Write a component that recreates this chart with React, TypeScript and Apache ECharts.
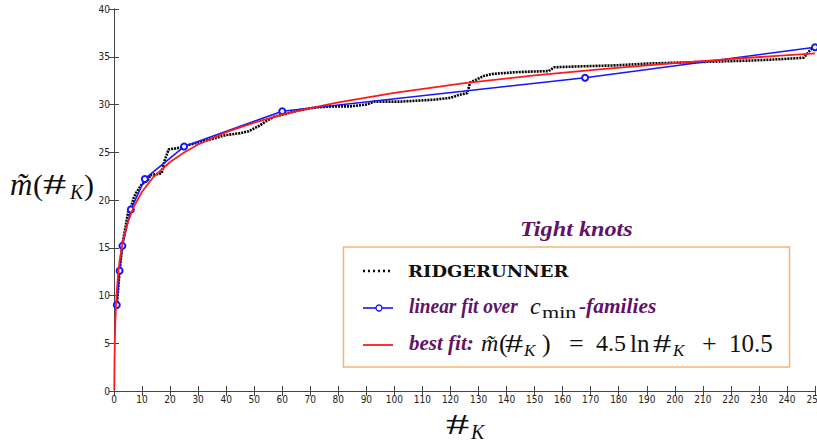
import React, { useEffect, useRef } from "react";
import * as echarts from "echarts";

// RIDGERUNNER data
const ridgeK = [1, 2, 3, 4, 5, 6, 7, 8, 10, 12, 13, 15, 17, 18, 19.5, 22, 25, 27, 31, 35, 40, 45, 48, 50, 52, 54, 57, 61, 66, 72, 78, 84, 90, 93, 102, 108, 114, 120, 123, 126, 127, 132, 135, 144, 155, 157, 167, 179, 191, 203, 215, 227, 238, 246, 248, 249.5];
const ridgeV = [9.0, 12.5, 15.4, 17.0, 18.7, 19.2, 20.2, 20.8, 21.7, 22.0, 22.6, 22.7, 22.8, 24.1, 25.3, 25.4, 25.6, 25.8, 26.1, 26.4, 26.8, 27.0, 27.2, 27.5, 27.8, 28.2, 28.7, 29.0, 29.4, 29.7, 29.8, 29.8, 30.0, 30.3, 30.3, 30.4, 30.5, 30.7, 31.0, 31.2, 32.3, 33.0, 33.2, 33.4, 33.5, 33.9, 34.0, 34.1, 34.3, 34.4, 34.5, 34.6, 34.75, 34.9, 35.6, 36.0];

// linear fit over c_min-families
const familyK = [1, 2, 3, 6, 11, 25, 60, 168, 250];
const familyV = [9.0, 12.6, 15.2, 19.0, 22.2, 25.6, 29.3, 32.8, 36.0];

// best fit curve
const fitK = [0.1, 0.15, 0.2, 0.3, 0.4, 0.5, 0.7, 1, 1.5, 2, 3, 4, 5, 7, 10, 14, 20, 25, 30, 40, 50, 60, 70, 80, 100, 125, 150, 175, 200, 225, 250];
const fitV = [0.14, 1.96, 3.26, 5.08, 6.38, 7.38, 8.89, 10.5, 12.32, 13.62, 15.44, 16.74, 17.74, 19.26, 20.86, 22.38, 23.98, 24.98, 25.81, 27.1, 28.1, 28.93, 29.62, 30.22, 31.22, 32.23, 33.05, 33.74, 34.34, 34.87, 35.35];

const xMax = 250;
const yMax = 40;
const xStep = 10;
const yStep = 5;

const PURPLE = "#5f1468";
const SERIF = "'Liberation Serif', 'DejaVu Serif', serif";
const NARROW = "'Liberation Sans Narrow', 'DejaVu Sans Condensed', 'Liberation Sans', sans-serif";
const AXIS = "#444";

function zip(a: number[], b: number[]) {
  return a.map((v, i) => [v, b[i]]);
}

type TOpts = {
  italic?: boolean;
  bold?: boolean;
  color?: string;
  family?: string;
  sx?: number;
  align?: string;
  z?: number;
};

function txt(text: string, x: number, y: number, size: number, o: TOpts = {}) {
  const font = `${o.italic ? "italic " : ""}${o.bold ? "bold " : ""}${size}px ${o.family || SERIF}`;
  return {
    type: "text",
    x,
    y,
    scaleX: o.sx || 1,
    z: o.z ?? 11,
    style: {
      text,
      font,
      fill: o.color || "#111",
      textAlign: o.align || "left",
      textVerticalAlign: "middle",
    },
  };
}

export default function App() {
  const ref = useRef<HTMLDivElement>(null);
  useEffect(() => {
    if (!ref.current) return;
    const chart = echarts.init(ref.current, null, { renderer: "svg" });
    const axisCommon = {
      type: "value" as const,
      splitLine: { show: false },
      axisLine: { show: true, lineStyle: { color: AXIS, width: 1 } },
      axisTick: { show: true, inside: true, length: 5, lineStyle: { color: AXIS } },
    };
    const yl = 184; // y-axis name centre
    const bf = 343; // best-fit row centre
    chart.setOption({
      animation: false,
      backgroundColor: "#fff",
      grid: { left: 114, top: 9, right: 2, bottom: 55, containLabel: false, outerBoundsMode: "none" },
      xAxis: [
        {
          ...axisCommon,
          position: "bottom",
          min: 0,
          max: xMax,
          interval: xStep,
          axisLabel: { fontSize: 10, color: "#222", margin: 3, fontFamily: NARROW },
        },
        {
          ...axisCommon,
          position: "top",
          min: 0,
          max: xMax,
          interval: xStep,
          axisLabel: { show: false },
        },
      ],
      yAxis: [
        {
          ...axisCommon,
          position: "left",
          min: 0,
          max: yMax,
          interval: yStep,
          axisLabel: { fontSize: 10, color: "#222", margin: 4, fontFamily: NARROW },
        },
        {
          ...axisCommon,
          position: "right",
          min: 0,
          max: yMax,
          interval: yStep,
          axisLabel: { show: false },
        },
      ],
      series: [
        {
          name: "RIDGERUNNER",
          type: "line",
          data: zip(ridgeK, ridgeV),
          showSymbol: false,
          symbol: "none",
          lineStyle: { color: "#000", width: 2.6, type: [2, 1] },
          z: 2,
        },
        {
          name: "linear fit",
          type: "line",
          data: zip(familyK, familyV),
          symbol: "emptyCircle",
          symbolSize: 6,
          itemStyle: { color: "#1515ff", borderColor: "#1515ff", borderWidth: 1.3 },
          lineStyle: { color: "#1515ff", width: 1.6 },
          z: 3,
        },
        {
          name: "best fit",
          type: "line",
          data: zip(fitK, fitV),
          symbol: "none",
          smooth: false,
          lineStyle: { color: "#ff1a1a", width: 1.8 },
          z: 4,
        },
      ],
      graphic: [
        // y-axis name  m~(#K)
        txt("m\u0303", 10, yl, 31, { italic: true }),
        txt("(", 33, yl, 30),
        txt("#", 43, yl, 30, { sx: 1.55 }),
        txt("K", 70, yl + 8, 20, { italic: true }),
        txt(")", 84, yl, 30),
        // x-axis name  #K
        txt("#", 446, 424, 30, { sx: 1.55 }),
        txt("K", 471, 432, 20, { italic: true }),
        // legend title
        txt("Tight knots", 520, 228, 22, { italic: true, bold: true, color: PURPLE, sx: 1.1 }),
        {
          type: "rect",
          shape: { x: 343.5, y: 247, width: 446, height: 120 },
          style: { fill: "#fff", stroke: "#f6b274", lineWidth: 1.5 },
          z: 10,
        },
        // entry 1
        {
          type: "line",
          shape: { x1: 363, y1: 271, x2: 393, y2: 271 },
          style: { stroke: "#000", lineWidth: 2.6, lineDash: [2, 3] },
          z: 11,
        },
        txt("RIDGERUNNER", 408, 271, 17, { bold: true, family: "'DejaVu Serif', serif", sx: 1.06 }),
        // entry 2
        {
          type: "line",
          shape: { x1: 363, y1: 308, x2: 393, y2: 308 },
          style: { stroke: "#1515ff", lineWidth: 1.6 },
          z: 11,
        },
        {
          type: "circle",
          shape: { cx: 379, cy: 308, r: 3 },
          style: { fill: "#fff", stroke: "#1515ff", lineWidth: 1.3 },
          z: 12,
        },
        txt("linear fit over", 409, 306, 20, { italic: true, bold: true, color: PURPLE, sx: 0.97 }),
        txt("c", 530, 306, 24, { italic: true }),
        txt("min", 542, 312, 17, { sx: 1.3 }),
        txt("-families", 579, 306, 20, { italic: true, bold: true, color: PURPLE, sx: 1.07 }),
        // entry 3
        {
          type: "line",
          shape: { x1: 363, y1: 345, x2: 393, y2: 345 },
          style: { stroke: "#ff1a1a", lineWidth: 1.8 },
          z: 11,
        },
        txt("best fit:", 409, bf, 20, { italic: true, bold: true, color: PURPLE, sx: 1.05 }),
        txt("m\u0303", 481, bf, 24, { italic: true }),
        txt("(", 499, bf, 26),
        txt("#", 505, bf, 26, { sx: 1.4 }),
        txt("K", 524, bf + 7, 17, { italic: true }),
        txt(")", 542, bf, 26),
        txt("=", 569, bf, 26),
        txt("4.5", 596, bf, 24),
        txt("ln", 630, bf, 25),
        txt("#", 653, bf, 26, { sx: 1.4 }),
        txt("K", 673, bf + 7, 17, { italic: true }),
        txt("+", 702, bf, 26),
        txt("10.5", 729, bf, 25),
      ],
    });
    return () => chart.dispose();
  }, []);
  return (
    <div
      ref={ref}
      style={{ position: "fixed", left: 0, top: 0, width: 817, height: 446, background: "#fff" }}
    />
  );
}
